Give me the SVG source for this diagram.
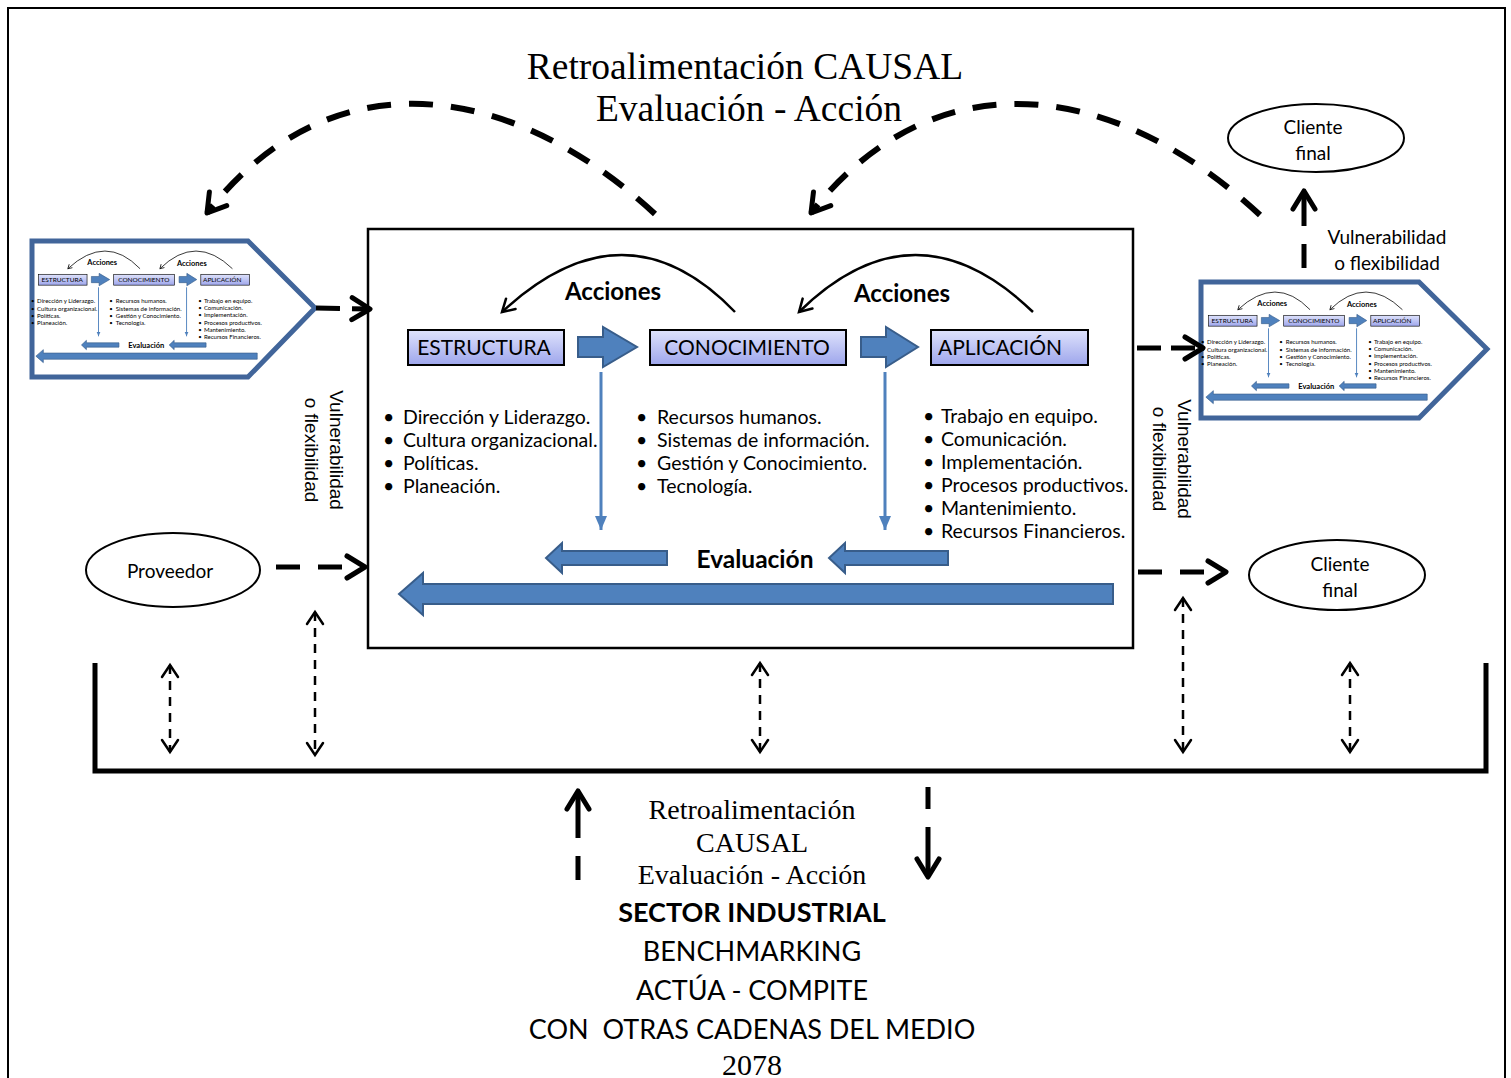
<svg xmlns="http://www.w3.org/2000/svg" xmlns:xlink="http://www.w3.org/1999/xlink" width="1511" height="1078" viewBox="0 0 1511 1078">
<style>
.sans{font-family:Lato,"Liberation Sans",sans-serif;fill:#000}
.arial{font-family:"Liberation Sans",Arial,sans-serif;fill:#000}
.serif{font-family:"Liberation Serif","Times New Roman",serif;fill:#000}
.box{fill:url(#lav);stroke:#000;stroke-width:2}
.blk{fill:#4f81bd;stroke:#385d8a;stroke-width:2}
.vthin{stroke:#4f81bd;stroke-width:3;fill:none}
.act{stroke:#000;stroke-width:2.5;fill:none}
.dash{stroke:#000;stroke-width:5;fill:none}
.top{stroke:#000;stroke-width:6;fill:none;stroke-dasharray:24 18}
.dbl{stroke:#000;stroke-width:2.5;fill:none;stroke-dasharray:9 7}
.oval{fill:#fff;stroke:#000;stroke-width:2}
.pent{fill:#fff;stroke:#41659a;stroke-width:5}
</style>
<defs>
<linearGradient id="lav" x1="0" y1="0" x2="0" y2="1">
<stop offset="0" stop-color="#dfe3fc"/>
<stop offset="1" stop-color="#9ea6ec"/>
</linearGradient>
<marker id="chev" markerUnits="userSpaceOnUse" markerWidth="30" markerHeight="30" viewBox="0 0 30 30" refX="24" refY="15" orient="auto">
<path d="M6,4 L24,15 L6,26" fill="none" stroke="#000" stroke-width="5" stroke-linecap="round" stroke-linejoin="round"/>
</marker>
<marker id="chevT" markerUnits="userSpaceOnUse" markerWidth="20" markerHeight="20" viewBox="0 0 20 20" refX="16" refY="10" orient="auto-start-reverse">
<path d="M4,2 L16,10 L4,18" fill="none" stroke="#000" stroke-width="2.5" stroke-linecap="round"/>
</marker>
<marker id="acm" markerUnits="userSpaceOnUse" markerWidth="20" markerHeight="20" viewBox="0 0 20 20" refX="16" refY="10" orient="auto">
<path d="M4,3 L16,10 L4,17" fill="none" stroke="#000" stroke-width="2.5" stroke-linecap="round"/>
</marker>
<marker id="tri" markerUnits="userSpaceOnUse" markerWidth="16" markerHeight="16" viewBox="0 0 16 16" refX="14" refY="8" orient="auto">
<path d="M0,2 L14,8 L0,14 Z" fill="#4f81bd"/>
</marker>
</defs>

<rect x="8" y="8" width="1497" height="1110" fill="#fff" stroke="#000" stroke-width="2"/>

<g id="title">
<text class="serif" x="745" y="79" font-size="37.5" text-anchor="middle">Retroalimentación CAUSAL</text>
<text class="serif" x="749" y="121" font-size="37.5" text-anchor="middle">Evaluación - Acción</text>
</g>

<g id="main-box">
<rect x="368" y="229" width="765" height="419" fill="#fff" stroke="#000" stroke-width="2.5"/>
<g id="core">
<path class="act" d="M735,312 Q625,198 502,312" marker-end="url(#acm)"/>
<path class="act" d="M1033,312 Q915,198 799,312" marker-end="url(#acm)"/>
<text class="sans" x="613" y="300" font-size="24" font-weight="bold" text-anchor="middle">Acciones</text>
<text class="sans" x="902" y="302" font-size="24" font-weight="bold" text-anchor="middle">Acciones</text>
<rect class="box" x="408" y="330" width="156" height="35"/>
<rect class="box" x="650" y="330" width="196" height="35"/>
<rect class="box" x="931" y="330" width="157" height="35"/>
<text class="sans" x="484" y="355" font-size="21" text-anchor="middle">ESTRUCTURA</text>
<text class="sans" x="747" y="355" font-size="21" text-anchor="middle">CONOCIMIENTO</text>
<text class="sans" x="1000" y="355" font-size="21" text-anchor="middle">APLICACIÓN</text>
<path class="blk" d="M578,337 L603,337 L603,327 L637,347 L603,367 L603,357 L578,357 Z"/>
<path class="blk" d="M861,337 L886,337 L886,327 L918,347 L886,367 L886,357 L861,357 Z"/>
<path class="vthin" d="M601,372 L601,530" marker-end="url(#tri)"/>
<path class="vthin" d="M885,372 L885,530" marker-end="url(#tri)"/>
<g class="sans" font-size="19.5">
<text x="383" y="424">•</text><text x="403" y="424">Dirección y Liderazgo.</text>
<text x="383" y="447">•</text><text x="403" y="447">Cultura organizacional.</text>
<text x="383" y="470">•</text><text x="403" y="470">Políticas.</text>
<text x="383" y="493">•</text><text x="403" y="493">Planeación.</text>
<text x="636" y="424">•</text><text x="657" y="424">Recursos humanos.</text>
<text x="636" y="447">•</text><text x="657" y="447">Sistemas de información.</text>
<text x="636" y="470">•</text><text x="657" y="470">Gestión y Conocimiento.</text>
<text x="636" y="493">•</text><text x="657" y="493">Tecnología.</text>
<text x="923" y="423">•</text><text x="941" y="423">Trabajo en equipo.</text>
<text x="923" y="446">•</text><text x="941" y="446">Comunicación.</text>
<text x="923" y="469">•</text><text x="941" y="469">Implementación.</text>
<text x="923" y="492">•</text><text x="941" y="492">Procesos productivos.</text>
<text x="923" y="515">•</text><text x="941" y="515">Mantenimiento.</text>
<text x="923" y="538">•</text><text x="941" y="538">Recursos Financieros.</text>
</g>
<path class="blk" d="M667,551 L562,551 L562,543 L546,558 L562,573 L562,565 L667,565 Z"/>
<path class="blk" d="M948,551 L845,551 L845,543 L829,558 L845,573 L845,565 L948,565 Z"/>
<text class="sans" x="755" y="568" font-size="24.5" font-weight="bold" text-anchor="middle">Evaluación</text>
<path class="blk" d="M1113,584 L423,584 L423,573 L399,594 L423,615 L423,604 L1113,604 Z"/>
</g>
</g>

<g id="chain-left">
<path class="pent" d="M32,241 L248,241 L315,308 L248,377 L32,377 Z"/>
<use href="#core" xlink:href="#core" transform="translate(-87.8,172) scale(0.31)"/>
</g>

<g id="chain-right">
<path class="pent" d="M1201,282 L1419,282 L1487,349 L1419,418 L1201,418 Z"/>
<use href="#core" xlink:href="#core" transform="translate(1082.2,213) scale(0.31)"/>
</g>

<g id="proveedor">
<ellipse class="oval" cx="173" cy="570" rx="87" ry="37"/>
<text class="sans" x="170" y="578" font-size="19" text-anchor="middle">Proveedor</text>
</g>

<g id="cliente-top">
<ellipse class="oval" cx="1316" cy="138" rx="88" ry="34"/>
<text class="sans" x="1313" y="134" font-size="19" text-anchor="middle">Cliente</text>
<text class="sans" x="1313" y="160" font-size="19" text-anchor="middle">final</text>
</g>

<g id="cliente-bottom">
<ellipse class="oval" cx="1337" cy="575" rx="88" ry="35"/>
<text class="sans" x="1340" y="571" font-size="19" text-anchor="middle">Cliente</text>
<text class="sans" x="1340" y="597" font-size="19" text-anchor="middle">final</text>
</g>

<g id="labels">
<text class="sans" x="1387" y="244" font-size="19" text-anchor="middle">Vulnerabilidad</text>
<text class="sans" x="1387" y="270" font-size="19" text-anchor="middle">o flexibilidad</text>
<g transform="translate(330,450) rotate(90)">
<text class="arial" x="0" y="0" font-size="19" text-anchor="middle">Vulnerabilidad</text>
<text class="arial" x="0" y="25" font-size="19" text-anchor="middle">o flexibilidad</text>
</g>
<g transform="translate(1178,459) rotate(90)">
<text class="arial" x="0" y="0" font-size="19" text-anchor="middle">Vulnerabilidad</text>
<text class="arial" x="0" y="25" font-size="19" text-anchor="middle">o flexibilidad</text>
</g>
</g>

<g id="sector">
<path d="M95,663 L95,771 L1486,771 L1486,663" fill="none" stroke="#000" stroke-width="5"/>
<text class="serif" x="752" y="819" font-size="28" text-anchor="middle">Retroalimentación</text>
<text class="serif" x="752" y="852" font-size="28" text-anchor="middle">CAUSAL</text>
<text class="serif" x="752" y="884" font-size="28" text-anchor="middle">Evaluación - Acción</text>
<text class="sans" x="752" y="922" font-size="27" font-weight="bold" text-anchor="middle">SECTOR INDUSTRIAL</text>
<text class="sans" x="752" y="961" font-size="27" text-anchor="middle">BENCHMARKING</text>
<text class="sans" x="752" y="1000" font-size="27" text-anchor="middle">ACTÚA - COMPITE</text>
<text class="sans" x="752" y="1039" font-size="27" text-anchor="middle" xml:space="preserve">CON  OTRAS CADENAS DEL MEDIO</text>
<text class="serif" x="752" y="1075" font-size="30" text-anchor="middle">2078</text>
</g>

<g id="connectors">
<path class="top" d="M655,214 C510,80 330,55 207,213" marker-end="url(#chev)"/>
<path class="top" d="M1260,215 C1115,80 935,55 811,213" marker-end="url(#chev)"/>
<path class="dash" d="M316,308 L370,309" stroke-dasharray="24 12" marker-end="url(#chev)"/>
<path class="dash" d="M1137,348 L1203,348" stroke-dasharray="24 10" marker-end="url(#chev)"/>
<path class="dash" d="M276,567 L365,567" stroke-dasharray="24 18" marker-end="url(#chev)"/>
<path class="dash" d="M1138,572 L1226,572" stroke-dasharray="24 18" marker-end="url(#chev)"/>
<path class="dash" d="M1304,268 L1304,191" stroke-dasharray="24 18 40" marker-end="url(#chev)"/>
<path class="dash" d="M578,880 L578,791" stroke-dasharray="24 18 50" marker-end="url(#chev)"/>
<path class="dash" d="M928,787 L928,877" stroke-dasharray="22 18 50" marker-end="url(#chev)"/>
<path class="dbl" d="M170,665 L170,752" marker-start="url(#chevT)" marker-end="url(#chevT)"/>
<path class="dbl" d="M315,612 L315,755" marker-start="url(#chevT)" marker-end="url(#chevT)"/>
<path class="dbl" d="M760,663 L760,752" marker-start="url(#chevT)" marker-end="url(#chevT)"/>
<path class="dbl" d="M1183,598 L1183,752" marker-start="url(#chevT)" marker-end="url(#chevT)"/>
<path class="dbl" d="M1350,663 L1350,752" marker-start="url(#chevT)" marker-end="url(#chevT)"/>
</g>
</svg>
